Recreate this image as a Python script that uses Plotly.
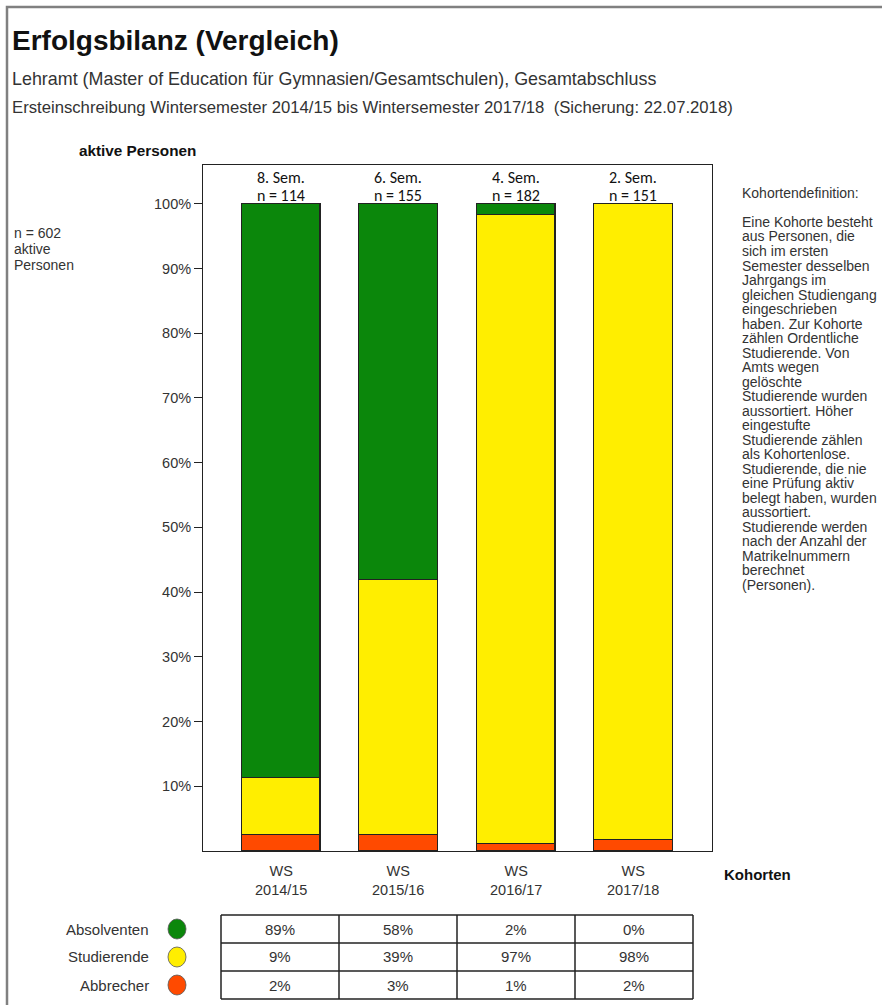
import plotly.graph_objects as go

# ---------------- data ----------------
kohorten_ws = ["WS", "WS", "WS", "WS"]
kohorten_jahr = ["2014/15", "2015/16", "2016/17", "2017/18"]
semester = ["8. Sem.", "6. Sem.", "4. Sem.", "2. Sem."]
n_values = [114, 155, 182, 151]
absolventen = [88.6, 58.1, 1.6, 0.0]
studierende = [8.8, 39.4, 97.3, 98.2]
abbrecher = [2.6, 2.5, 1.1, 1.8]
table_abs = ["89%", "58%", "2%", "0%"]
table_stud = ["9%", "39%", "97%", "98%"]
table_abb = ["2%", "3%", "1%", "2%"]
y_ticks = [10, 20, 30, 40, 50, 60, 70, 80, 90, 100]
series_names = ["Absolventen", "Studierende", "Abbrecher"]
total_n = 602

kohorten_text = [
    "Kohortendefinition:", "",
    "Eine Kohorte besteht", "aus Personen, die", "sich im ersten",
    "Semester desselben", "Jahrgangs im", "gleichen Studiengang",
    "eingeschrieben", "haben. Zur Kohorte", "zählen Ordentliche",
    "Studierende. Von", "Amts wegen", "gelöschte", "Studierende wurden",
    "aussortiert. Höher", "eingestufte", "Studierende zählen",
    "als Kohortenlose.", "Studierende, die nie", "eine Prüfung aktiv",
    "belegt haben, wurden", "aussortiert.", "Studierende werden",
    "nach der Anzahl der", "Matrikelnummern", "berechnet", "(Personen).",
]

# ---------------- style ----------------
W, H = 882, 1005
PL, PR, PT, PB = 203, 712, 165, 851
GREEN, YELLOW, RED = "#0b870b", "#ffee00", "#ff4a00"
SANS = "Liberation Sans, Arial, sans-serif"
CAL = "Carlito, Lato, sans-serif"
TXT = "#333333"


def px(x):
    return (x - PL) / (PR - PL)


def py(y):
    return (PB - y) / (PB - PT)


xs = list(range(len(kohorten_jahr)))
fig = go.Figure()
for name, vals, col in [("Abbrecher", abbrecher, RED),
                        ("Studierende", studierende, YELLOW),
                        ("Absolventen", absolventen, GREEN)]:
    fig.add_trace(go.Bar(x=xs, y=vals, name=name, width=0.67,
                         marker=dict(color=col, line=dict(color="#222222", width=1.2)),
                         hoverinfo="skip"))

fig.update_layout(
    barmode="stack", width=W, height=H, showlegend=False,
    margin=dict(l=PL, r=W - PR, t=PT, b=H - PB, pad=0),
    plot_bgcolor="white", paper_bgcolor="white",
    font=dict(family=SANS, color=TXT, size=14),
)
fig.update_xaxes(range=[-0.66, 3.67], tickvals=xs, showticklabels=False,
                 showline=True, mirror=True, linecolor="#222222", linewidth=1,
                 ticks="", showgrid=False, zeroline=False)
fig.update_yaxes(range=[0, 106], tickvals=y_ticks, ticktext=[f"{v}%" for v in y_ticks],
                 showline=True, mirror=True, linecolor="#222222", linewidth=1,
                 ticks="outside", ticklen=8, tickcolor="#222222", showgrid=False,
                 zeroline=False, tickfont=dict(family=SANS, size=14.5, color=TXT))

ann = []


def text(x, y, s, size=14, family=SANS, bold=False, xanchor="left", color=TXT, yanchor="middle"):
    if bold:
        s = f"<b>{s}</b>"
    ann.append(dict(x=px(x), y=py(y), xref="paper", yref="paper", text=s, showarrow=False,
                    xanchor=xanchor, yanchor=yanchor, font=dict(size=size, family=family, color=color)))


def cat_text(i, y, s, size, family, color):
    ann.append(dict(x=i, y=py(y), xref="x", yref="paper", text=s, showarrow=False,
                    xanchor="center", yanchor="middle",
                    font=dict(size=size, family=family, color=color)))


text(10, 40, "Erfolgsbilanz (Vergleich)", size=28, bold=True, color="#111111")
text(10, 79, "Lehramt (Master of Education für Gymnasien/Gesamtschulen), Gesamtabschluss", size=17.9)
text(10, 107, "Ersteinschreibung Wintersemester 2014/15 bis Wintersemester 2017/18  (Sicherung: 22.07.2018)", size=16.7)
text(198, 151, "aktive Personen", size=15.3, bold=True, xanchor="right", color="#111111")
text(12, 233, f"n = {total_n}", size=14)
text(12, 249, "aktive", size=14)
text(12, 265, "Personen", size=14)
text(722, 874, "Kohorten", size=15, bold=True, color="#111111")

for i in xs:
    cat_text(i, 178, semester[i], 16, CAL, "#111111")
    cat_text(i, 196, f"n = {n_values[i]}", 16, CAL, "#111111")
    cat_text(i, 880, f"{kohorten_ws[i]}<br>{kohorten_jahr[i]}", 14.5, SANS, TXT)

for k, line in enumerate(kohorten_text):
    if line:
        text(740, 193 + 14.5 * k, line, size=14)

# legend + table
shapes = []
rows = [(series_names[0], GREEN, table_abs), (series_names[1], YELLOW, table_stud),
        (series_names[2], RED, table_abb)]
row_y = [915, 943, 971, 999]
col_x = [221, 339, 457, 575, 693]
for r, (name, col, vals) in enumerate(rows):
    cy = (row_y[r] + row_y[r + 1]) / 2
    text(151, cy, name, size=15, xanchor="right")
    shapes.append(dict(type="circle", xref="paper", yref="paper",
                       x0=px(168), x1=px(186), y0=py(cy - 10), y1=py(cy + 10),
                       fillcolor=col, line=dict(color="#555555", width=0.8)))
    for c in range(4):
        text((col_x[c] + col_x[c + 1]) / 2, cy, vals[c], size=15, xanchor="center")

for y in row_y:
    shapes.append(dict(type="line", xref="paper", yref="paper", x0=px(col_x[0]), x1=px(col_x[-1]),
                       y0=py(y), y1=py(y), line=dict(color="#222222", width=1.5)))
for x in col_x:
    shapes.append(dict(type="line", xref="paper", yref="paper", x0=px(x), x1=px(x),
                       y0=py(row_y[0]), y1=py(row_y[-1]), line=dict(color="#222222", width=1.5)))

# outer frame
shapes.append(dict(type="rect", xref="paper", yref="paper", x0=px(7), x1=px(890),
                   y0=py(1015), y1=py(7), line=dict(color="#808080", width=2.5), fillcolor="rgba(0,0,0,0)"))

fig.update_layout(annotations=ann, shapes=shapes)
fig.write_html("out.html")
